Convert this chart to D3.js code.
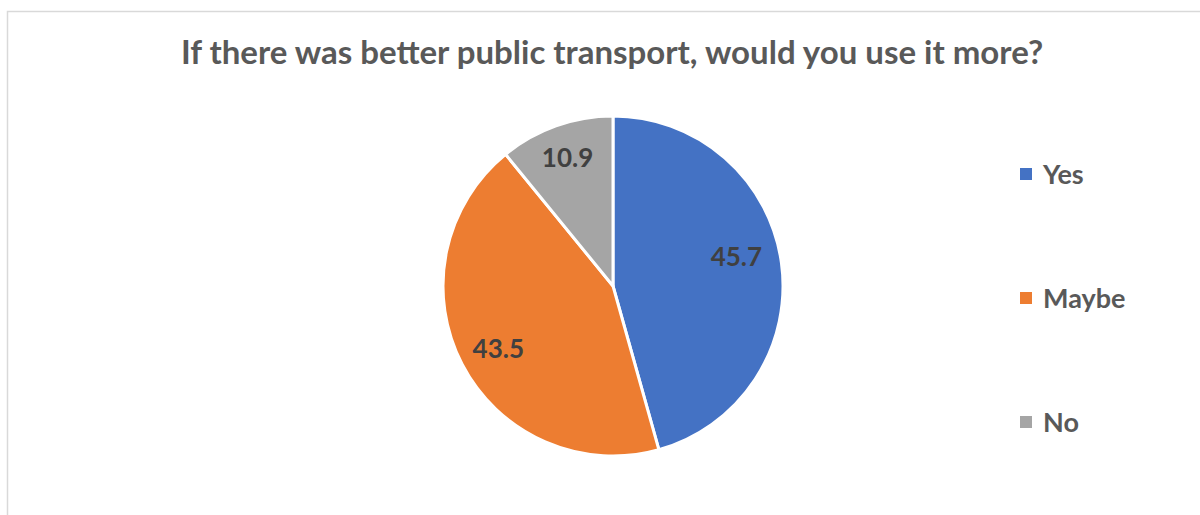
<!DOCTYPE html>
<html>
<head>
<meta charset="utf-8">
<script src="https://cdn.jsdelivr.net/npm/d3@7"></script>
<style>
  body { margin: 0; background: #fff; }
  text { font-family: Lato, "Open Sans", sans-serif; font-weight: bold; }
</style>
</head>
<body>
<div id="chart"></div>
<script>
const categories = ["Yes", "Maybe", "No"];
const values = [45.7, 43.5, 10.9];
const colors = ["#4472C4", "#ED7D31", "#A5A5A5"];
const title = "If there was better public transport, would you use it more?";

const width = 1200, height = 515;
const cx = 613, cy = 286, radius = 170;
// Excel's "best fit" nudges some labels off the centroid
const labelNudge = { Yes: [-8, -11], Maybe: [3, 2], No: [-1, -3] };

const svg = d3.select("#chart").append("svg")
  .attr("width", width)
  .attr("height", height);

// chart area border (only top and left are visible in the frame)
svg.append("rect")
  .attr("x", 7.5).attr("y", 11.5)
  .attr("width", width + 20).attr("height", height + 20)
  .attr("fill", "none")
  .attr("stroke", "#d9d9d9")
  .attr("stroke-width", 1.5);

svg.append("text")
  .attr("x", 612).attr("y", 64)
  .attr("text-anchor", "middle")
  .attr("fill", "#595959")
  .style("font-size", "33px")
  .text(title);

const pie = d3.pie().sort(null).value(d => d);
const arcs = pie(values);
const arc = d3.arc().innerRadius(0).outerRadius(radius);
const labelArc = d3.arc().innerRadius(radius * 0.78).outerRadius(radius * 0.78);

const g = svg.append("g").attr("transform", `translate(${cx},${cy})`);

g.selectAll("path")
  .data(arcs)
  .enter()
  .append("path")
  .attr("d", arc)
  .attr("fill", (d, i) => colors[i])
  .attr("stroke", "#fff")
  .attr("stroke-width", 3)
  .attr("stroke-linejoin", "round");

g.selectAll("text")
  .data(arcs)
  .enter()
  .append("text")
  .attr("transform", (d, i) => {
    const c = labelArc.centroid(d);
    const n = labelNudge[categories[i]];
    return `translate(${c[0] + n[0]},${c[1] + n[1]})`;
  })
  .attr("text-anchor", "middle")
  .attr("dy", "0.36em")
  .attr("fill", "#404040")
  .style("font-size", "26px")
  .text(d => d.data.toFixed(1));

// legend
const legendY = d3.scalePoint().domain(categories).range([174, 422]);
const legend = svg.append("g");
legend.selectAll("rect")
  .data(categories)
  .enter()
  .append("rect")
  .attr("x", 1020)
  .attr("y", d => legendY(d) - 6)
  .attr("width", 12).attr("height", 12)
  .attr("fill", (d, i) => colors[i]);
legend.selectAll("text")
  .data(categories)
  .enter()
  .append("text")
  .attr("x", 1043)
  .attr("y", d => legendY(d))
  .attr("dy", "0.36em")
  .attr("fill", "#595959")
  .style("font-size", "27px")
  .text(d => d);
</script>
</body>
</html>
